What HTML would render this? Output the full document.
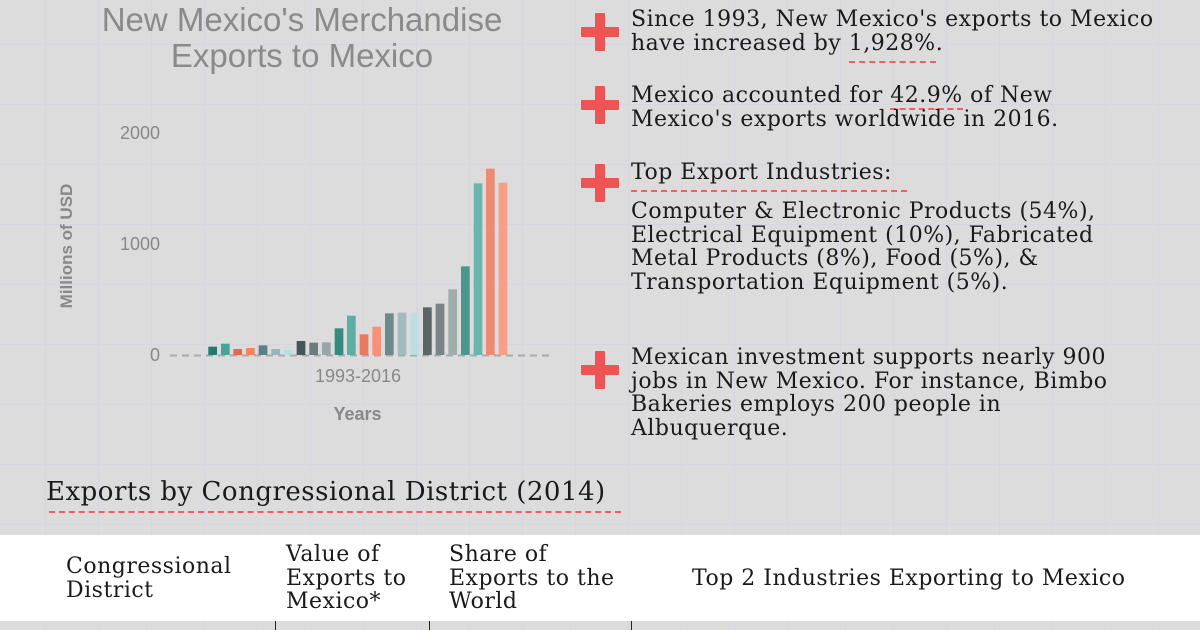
<!DOCTYPE html>
<html><head><meta charset="utf-8"><style>
html,body{margin:0;padding:0}
body{width:1200px;height:630px;overflow:hidden;position:relative;background-color:#dcdcdc;
background-image:linear-gradient(#d6d5e0 1px,transparent 1px),linear-gradient(90deg,#d6d5e0 1px,transparent 1px);
background-size:53px 60px;background-position:-1px 44px, 45px 0;}
.t{position:absolute;font-family:"DejaVu Serif",serif;color:#1a1a1a;font-size:22px;line-height:23.5px;letter-spacing:0.5px;white-space:nowrap}
.plus{position:absolute;width:38px;height:38px}
.plus:before{content:"";position:absolute;left:14px;top:0;width:10px;height:38px;background:#ee5454;border-radius:1px}
.plus:after{content:"";position:absolute;left:0;top:14px;width:38px;height:10px;background:#ee5454;border-radius:1px}
.u{border-bottom:2px dashed #f06060;padding-bottom:5px}
.s{position:absolute;font-family:"Liberation Sans",sans-serif;color:#888;white-space:nowrap}
</style></head><body>
<div class="s" style="left:52px;top:2px;width:500px;text-align:center;font-size:33px;line-height:36px;color:#8a8a8a">New Mexico's Merchandise<br>Exports to Mexico</div>
<div class="s" style="left:100px;top:123px;width:60px;text-align:right;font-size:18px">2000</div>
<div class="s" style="left:100px;top:234px;width:60px;text-align:right;font-size:18px">1000</div>
<div class="s" style="left:100px;top:345px;width:60px;text-align:right;font-size:18px">0</div>
<div class="s" style="left:-3px;top:236px;width:140px;text-align:center;transform:rotate(-90deg);font-size:17px;font-weight:bold;color:#888">Millions of USD</div>
<div class="s" style="left:258px;top:366px;width:200px;text-align:center;font-size:18px">1993-2016</div>
<div class="s" style="left:300px;top:404px;width:115px;text-align:center;font-size:18px;font-weight:bold">Years</div>
<svg style="position:absolute;left:0;top:0" width="600" height="400">
<line x1="170" y1="355.5" x2="550" y2="355.5" stroke="#aaa" stroke-width="2" stroke-dasharray="7,5"/>
<g id="bars"></g>
</svg>
<script>
var xs=[175,213,250,288,326,364,402,440,478,516,554,591,629,667,705,743,781,819,857,895,933,971,1008,1046];
var ts=[590,581,597,594,586,597,600,573,578,577,535,497,553,530,490,488,488,472,461,418,349,100,56,98];
var cs=["#1e7b6f","#45a597","#e8664f","#f5835f","#5d7f86","#94b6bc","#b8dce0","#44565a","#6b7c80","#98a6a8","#368a80","#5aaea3","#e97a62","#f99178","#6f8a8d","#a2bbbf","#c0dcdf","#5b6568","#788488","#a0adad","#4d968d","#6cb5ad","#ec8a73","#f89e86"];
var g=document.getElementById('bars'),h='';
for(var i=0;i<24;i++){var x=150+xs[i]/3,y=150+ts[i]/3;h+='<rect x="'+x+'" y="'+y+'" width="8.7" height="'+(355-y)+'" fill="'+cs[i]+'"/>';}
g.innerHTML=h;
</script>
<div class="plus" style="left:581px;top:13px"></div>
<div class="plus" style="left:581px;top:86px"></div>
<div class="plus" style="left:581px;top:164px"></div>
<div class="plus" style="left:581px;top:351px"></div>
<div class="t" style="left:631px;top:8px">Since 1993, New Mexico's exports to Mexico<br>have increased by <span class="u">1,928%</span>.</div>
<div class="t" style="left:631px;top:84px">Mexico accounted for <span class="u" style="padding-bottom:0">42.9%</span> of New<br>Mexico's exports worldwide in 2016.</div>
<div class="t" style="left:631px;top:161px"><span class="u">Top Export Industries:&nbsp;&nbsp;</span></div>
<div class="t" style="left:631px;top:200px">Computer &amp; Electronic Products (54%),<br>Electrical Equipment (10%), Fabricated<br>Metal Products (8%), Food (5%), &amp;<br>Transportation Equipment (5%).</div>
<div class="t" style="left:631px;top:346px">Mexican investment supports nearly 900<br>jobs in New Mexico. For instance, Bimbo<br>Bakeries employs 200 people in<br>Albuquerque.</div>
<div class="t" style="left:46px;top:478px;font-size:26px;line-height:28px;letter-spacing:0.5px">Exports by Congressional District (2014)</div>
<div style="position:absolute;left:49px;top:511px;width:572px;border-top:2px dashed #f06060"></div>
<div style="position:absolute;left:0;top:535px;width:1200px;height:86px;background:#fff"></div>
<div class="t" style="left:66px;top:555px">Congressional<br>District</div>
<div class="t" style="left:286px;top:543px">Value of<br>Exports to<br>Mexico*</div>
<div class="t" style="left:449px;top:543px">Share of<br>Exports to the<br>World</div>
<div class="t" style="left:692px;top:567px">Top 2 Industries Exporting to Mexico</div>
<div style="position:absolute;left:275px;top:621px;width:1px;height:9px;background:#222"></div>
<div style="position:absolute;left:429px;top:621px;width:1px;height:9px;background:#222"></div>
<div style="position:absolute;left:631px;top:621px;width:1px;height:9px;background:#222"></div>
</body></html>
